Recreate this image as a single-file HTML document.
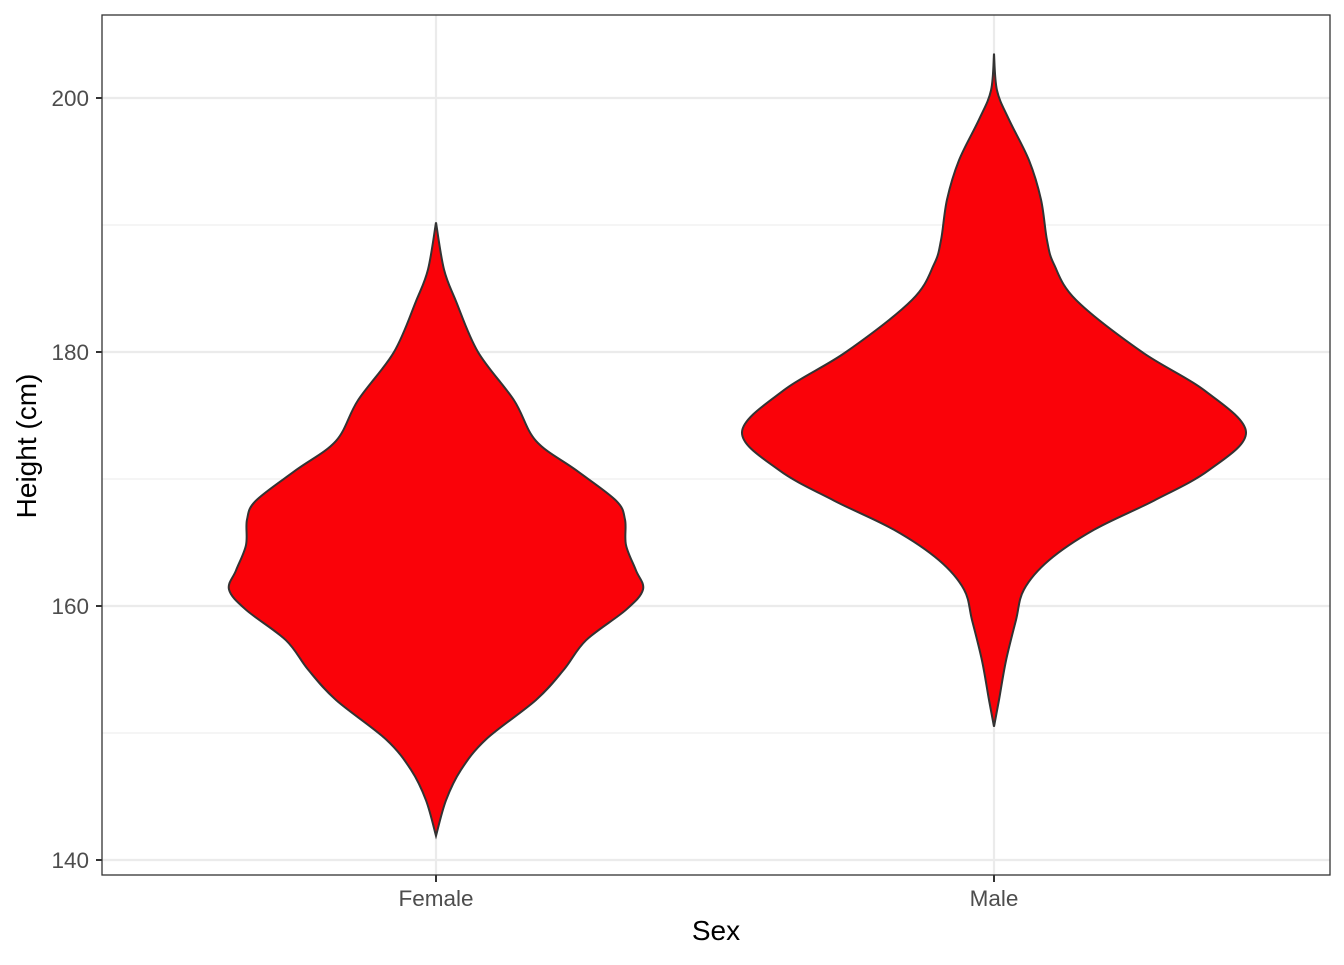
<!DOCTYPE html>
<html><head><meta charset="utf-8"><style>
html,body{margin:0;padding:0;background:#fff;}
svg text{font-family:"Liberation Sans",Arial,sans-serif;}
</style></head><body>
<svg id="chart" width="1344" height="960">
<rect width="1344" height="960" fill="#fff"/>
<g id="grid"></g><g id="violins"></g><g id="axes"></g>
</svg>
<script>
const categories = ["Female","Male"];
const yTicks = [140,160,180,200];
const yMinor = [150,170,190];
// violin outlines: heights (cm) and half-widths (density units)
const femaleHeights = [190.2,186.5,184,180,176.2,173,170.7,168.3,166.8,164.8,162.8,161.3,159.7,157.3,155,152.6,149.5,147.1,144.7,141.9];
const femaleWidths  = [0,8,20,42,78,100,140,180,189,190,200,207,190,150,128,100,50,25,10,0];
const maleHeights = [203.5,200.6,198.3,195.1,192,188.8,186.9,184.1,180,177,173.7,170.7,168.3,166,163.6,161.3,158.9,155.7,152.6,150.5];
const maleWidths  = [0,3,15,35,47,53,60,82,148,210,252,215,160,100,55,30,22,12,5,0];
const series = [[femaleHeights,femaleWidths],[maleHeights,maleWidths]];

const L=102,T=15,R=1330,B=875;
const y = v => 98 + (200 - v) * 12.7;
const x = i => 436 + i * 558;
const w = d => d * 1.0;
const NS="http://www.w3.org/2000/svg";
function mk(tag, attrs, parent){const e=document.createElementNS(NS,tag);for(const k in attrs)e.setAttribute(k,attrs[k]);parent.appendChild(e);return e;}
const grid=document.getElementById('grid'), vg=document.getElementById('violins'), ax=document.getElementById('axes');

yMinor.forEach(v=>{const l=mk('line',{x1:L,x2:R,y1:y(v),y2:y(v),stroke:'#ebebeb','stroke-width':1.1},grid);

});
yTicks.forEach(v=>{const l=mk('line',{x1:L,x2:R,y1:y(v),y2:y(v),stroke:'#ebebeb','stroke-width':2.2},grid);

});
categories.forEach((c,i)=>{const l=mk('line',{x1:x(i),x2:x(i),y1:T,y2:B,stroke:'#ebebeb','stroke-width':2.2},grid);

});

function smooth(pts){
  let d=`M${pts[0][0]},${pts[0][1]}`;
  for(let i=0;i<pts.length-1;i++){
    const p0=pts[Math.max(0,i-1)],p1=pts[i],p2=pts[i+1],p3=pts[Math.min(pts.length-1,i+2)];
    const c1=[p1[0]+(p2[0]-p0[0])/6,p1[1]+(p2[1]-p0[1])/6];
    const c2=[p2[0]-(p3[0]-p1[0])/6,p2[1]-(p3[1]-p1[1])/6];
    d+=` C${c1[0]},${c1[1]} ${c2[0]},${c2[1]} ${p2[0]},${p2[1]}`;
  }
  return d;
}
series.forEach(([hs,ws],i)=>{
  const cx=x(i);
  const right=hs.map((h,k)=>[cx+w(ws[k]),y(h)]);
  const left=hs.map((h,k)=>[cx-w(ws[k]),y(h)]).reverse();
  const d=smooth(right)+' '+smooth(left).replace(/^M/,'L')+' Z';
  const p=mk('path',{d:d,fill:'#fa0209',stroke:'#333','stroke-width':2},vg);
  
  
});

const frame=mk('rect',{x:L,y:T,width:R-L,height:B-T,fill:'none',stroke:'#333','stroke-width':1.3},ax);


yTicks.forEach(v=>{
  const t=mk('line',{x1:L-6,x2:L,y1:y(v),y2:y(v),stroke:'#333','stroke-width':2},ax);
  
  
  const tx=mk('text',{x:L-13,y:y(v)+8,'text-anchor':'end','font-size':22.5,fill:'#4d4d4d'},ax);
  tx.textContent=v;
  
  
});
categories.forEach((c,i)=>{
  const t=mk('line',{x1:x(i),x2:x(i),y1:B,y2:B+7,stroke:'#333','stroke-width':2},ax);
  
  
  const tx=mk('text',{x:x(i),y:906,'text-anchor':'middle','font-size':22.5,fill:'#4d4d4d'},ax);
  tx.textContent=c;
  
  
});
const xt=mk('text',{x:716,y:940,'text-anchor':'middle','font-size':28,fill:'#000'},ax);
xt.textContent='Sex';


const yt=mk('text',{x:0,y:0,'text-anchor':'middle','font-size':28,fill:'#000',transform:'translate(36,446) rotate(-90)'},ax);
yt.textContent='Height (cm)';


</script>
</body></html>
